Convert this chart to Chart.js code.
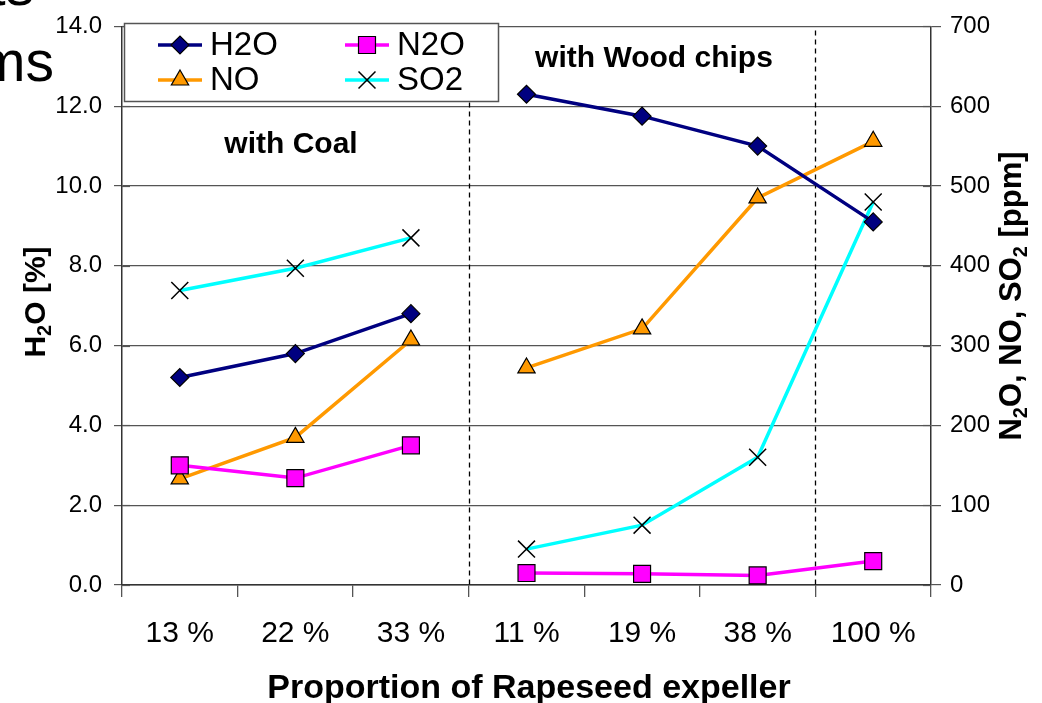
<!DOCTYPE html>
<html>
<head>
<meta charset="utf-8">
<script src="https://cdn.jsdelivr.net/npm/chart.js@4/dist/chart.umd.min.js"></script>
<style>
  html, body { margin: 0; padding: 0; background: #fff; }
  #wrap { width: 1042px; height: 703px; position: relative; }
</style>
</head>
<body>
<div id="wrap"><canvas id="chart"></canvas></div>
<script>
// categories: first three with coal, last four with wood chips
const categories = ['13 %', '22 %', '33 %', '11 %', '19 %', '38 %', '100 %'];
const h2o = [5.2, 5.8, 6.8, 12.3, 11.75, 11.0, 9.1];   // left axis [%]
const n2o = [150, 134, 175, 15, 14, 12, 30];          // right axis [ppm]
const no  = [133, 185, 307, 272, 321, 485, 556];
const so2 = [369, 397, 435, 45, 75, 160, 480];
const leftTicks = [0, 2, 4, 6, 8, 10, 12, 14];
const rightTicks = [0, 100, 200, 300, 400, 500, 600, 700];

const FONT = '"Liberation Sans", Arial, sans-serif';
const breakAt = 2; // no line between coal and wood groups

function seg(color) {
    return { borderColor: c => c.p0DataIndex === breakAt ? 'rgba(0,0,0,0)' : color };
}

const series = [
    { label: 'H2O', data: h2o, axis: 'y', color: '#000080', fill: '#000080', style: 'rectRot', r: 9 },
    { label: 'N2O', data: n2o, axis: 'y2', color: '#FF00FF', fill: '#FF00FF', style: 'rect', r: 12 },
    { label: 'NO', data: no, axis: 'y2', color: '#FF9900', fill: '#FF9900', style: 'triangle', r: 10 },
    { label: 'SO2', data: so2, axis: 'y2', color: '#00FFFF', fill: '#000000', style: 'crossRot', r: 12 }
];

// text with subscript parts, e.g. [['H',0],['2',1],['O [%]',0]]
function subText(ctx, parts, size) {
    const big = 'bold ' + size + 'px ' + FONT;
    const small = 'bold ' + Math.round(size * 0.65) + 'px ' + FONT;
    let total = 0;
    parts.forEach(p => { ctx.font = p[1] ? small : big; total += ctx.measureText(p[0]).width; });
    let x = -total / 2;
    ctx.textAlign = 'left';
    ctx.textBaseline = 'alphabetic';
    parts.forEach(p => {
        ctx.font = p[1] ? small : big;
        ctx.fillText(p[0], x, p[1] ? size * 0.2 : 0);
        x += ctx.measureText(p[0]).width;
    });
}

const extras = {
    id: 'extras',
    beforeDatasetsDraw(chart) {
        const ctx = chart.ctx, xs = chart.scales.x, a = chart.chartArea;
        ctx.save();
        // dashed separators between the groups
        ctx.strokeStyle = '#000';
        ctx.lineWidth = 1.3;
        ctx.setLineDash([5, 4]);
        [2, 5].forEach(i => {
            const px = Math.round((xs.getPixelForValue(i) + xs.getPixelForValue(i + 1)) / 2) + 0.5;
            ctx.beginPath();
            ctx.moveTo(px, a.top + 4);
            ctx.lineTo(px, a.bottom);
            ctx.stroke();
        });
        ctx.setLineDash([]);
        // small tick marks inside the left and right axes
        ctx.strokeStyle = '#555';
        ctx.lineWidth = 1.2;
        const yl = chart.scales.y, yr = chart.scales.y2;
        leftTicks.forEach(v => {
            const py = Math.round(yl.getPixelForValue(v)) + 0.5;
            ctx.beginPath(); ctx.moveTo(a.left, py); ctx.lineTo(a.left + 8, py); ctx.stroke();
        });
        rightTicks.forEach(v => {
            const py = Math.round(yr.getPixelForValue(v)) + 0.5;
            ctx.beginPath(); ctx.moveTo(a.right - 8, py); ctx.lineTo(a.right, py); ctx.stroke();
        });
        ctx.restore();
    },
    afterDraw(chart) {
        const ctx = chart.ctx;
        ctx.save();
        ctx.fillStyle = '#000';

        // cut-off slide text at top left
        ctx.font = '57px ' + FONT;
        ctx.textAlign = 'right';
        ctx.textBaseline = 'alphabetic';
        ctx.fillText('ts', 34, 5);
        ctx.fillText('ms', 54, 81);

        // group annotations
        ctx.font = 'bold 30px ' + FONT;
        ctx.textAlign = 'center';
        ctx.fillText('with Coal', 291, 153);
        ctx.fillText('with Wood chips', 654, 67);

        // x title
        ctx.font = 'bold 34px ' + FONT;
        ctx.fillText('Proportion of Rapeseed expeller', 529, 698);

        // y titles
        ctx.save();
        ctx.translate(45, 302);
        ctx.rotate(-Math.PI / 2);
        subText(ctx, [['H', 0], ['2', 1], ['O [%]', 0]], 30);
        ctx.restore();

        ctx.save();
        ctx.translate(1021, 296);
        ctx.rotate(-Math.PI / 2);
        subText(ctx, [['N', 0], ['2', 1], ['O, NO, SO', 0], ['2', 1], [' [ppm]', 0]], 31);
        ctx.restore();

        // legend box
        const bx = 124, by = 23, bw = 374, bh = 78;
        ctx.fillStyle = '#fff';
        ctx.fillRect(bx, by, bw, bh);
        ctx.strokeStyle = '#555';
        ctx.lineWidth = 1.5;
        ctx.strokeRect(bx + 0.5, by + 0.5, bw, bh);
        const spots = [[158, 45], [345, 45], [158, 80], [345, 80]];
        series.forEach((s, i) => {
            const x0 = spots[i][0], y0 = spots[i][1];
            ctx.strokeStyle = s.color;
            ctx.lineWidth = 3.5;
            ctx.beginPath();
            ctx.moveTo(x0, y0);
            ctx.lineTo(x0 + 44, y0);
            ctx.stroke();
            ctx.fillStyle = s.fill;
            ctx.strokeStyle = '#000';
            ctx.lineWidth = s.style === 'crossRot' ? 1.5 : 1.2;
            Chart.helpers.drawPoint(ctx, { pointStyle: s.style, radius: s.r, borderWidth: 1.2, rotation: 0 }, x0 + 22, y0);
            ctx.fillStyle = '#000';
            ctx.font = '33px ' + FONT;
            ctx.textAlign = 'left';
            ctx.textBaseline = 'middle';
            ctx.fillText(s.label, x0 + 52, y0 + 1);
        });
        ctx.restore();
    }
};

new Chart(document.getElementById('chart'), {
    type: 'line',
    data: {
        labels: categories,
        datasets: series.map(s => ({
            label: s.label,
            data: s.data,
            yAxisID: s.axis,
            borderColor: s.color,
            borderWidth: 3.5,
            pointStyle: s.style,
            pointRadius: s.r,
            pointHoverRadius: s.r,
            pointBackgroundColor: s.fill,
            pointBorderColor: '#000',
            pointBorderWidth: s.style === 'crossRot' ? 1.5 : 1.2,
            tension: 0,
            segment: seg(s.color)
        }))
    },
    options: {
        responsive: true,
        maintainAspectRatio: false,
        animation: false,
        layout: { padding: { top: 22, left: 0, right: 0, bottom: 0 } },
        plugins: { legend: { display: false }, tooltip: { enabled: false } },
        scales: {
            x: {
                offset: true,
                afterFit: s => { s.height = 118; },
                grid: { offset: true, drawOnChartArea: false, drawTicks: true, tickLength: 12, color: '#555', lineWidth: 1.3 },
                border: { color: '#333', width: 1.5 },
                ticks: { font: { family: FONT, size: 30 }, color: '#000', padding: 19, autoSkip: false, maxRotation: 0 }
            },
            y: {
                position: 'left',
                min: 0, max: 14,
                afterFit: s => { s.width = 122; },
                afterBuildTicks: s => { s.ticks = leftTicks.map(v => ({ value: v })); },
                grid: { color: '#555', lineWidth: 1.2, tickLength: 8 },
                border: { color: '#333', width: 1.5 },
                ticks: { font: { family: FONT, size: 24 }, color: '#000', padding: 12, callback: v => v.toFixed(1) }
            },
            y2: {
                position: 'right',
                min: 0, max: 700,
                afterFit: s => { s.width = 111; },
                afterBuildTicks: s => { s.ticks = rightTicks.map(v => ({ value: v })); },
                grid: { drawOnChartArea: false, color: '#555', lineWidth: 1.2, tickLength: 10 },
                border: { color: '#333', width: 1.5 },
                ticks: { font: { family: FONT, size: 24 }, color: '#000', padding: 9 }
            }
        }
    },
    plugins: [extras]
});
</script>
</body>
</html>
